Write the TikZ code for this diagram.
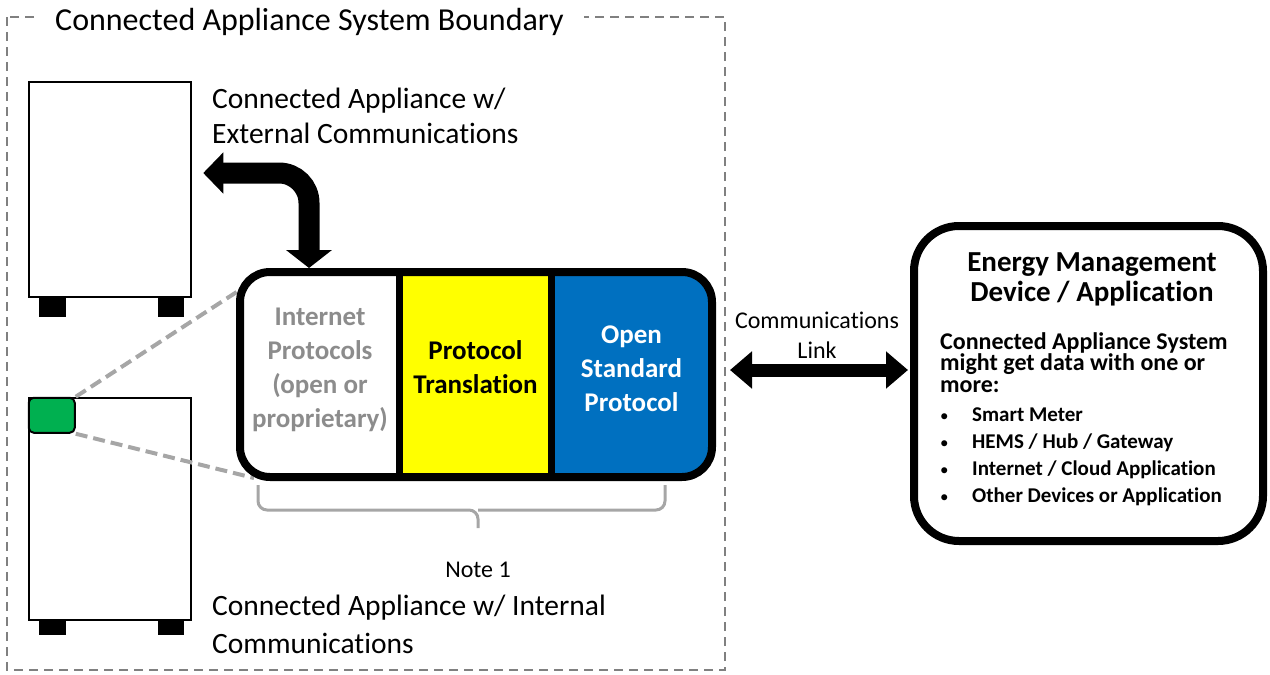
\documentclass[tikz,border=0pt]{standalone}
\usepackage{fontspec}
\setmainfont{Carlito}[Ligatures=NoCommon]
\usetikzlibrary{arrows.meta}
\usetikzlibrary{positioning}
\definecolor{protoyellow}{HTML}{FFFF00}
\definecolor{protoblue}{HTML}{0070C0}
\definecolor{portgreen}{HTML}{00B050}
\definecolor{edgegray}{HTML}{808080}
\definecolor{zoomgray}{HTML}{A6A6A6}
\definecolor{textgray}{HTML}{8C8C8C}
\tikzset{
  appliance/.style={draw, line width=2.5pt, minimum width=162pt, inner sep=0pt},
  section/.style={minimum height=205pt, inner sep=0pt},
  sectiontext/.style={align=center, inner sep=0pt, font=\bfseries\fontsize{27}{34}\selectfont},
  fatarrow/.style={line width=13pt},
  plainlabel/.style={align=left, inner sep=0pt}
}

\begin{document}
\begin{tikzpicture}[x=1pt, y=-1pt]
    \useasboundingbox (0,0) rectangle (1270,675);
    % system boundary
    \draw[edgegray, line width=2.5pt, dash pattern=on 9pt off 6pt] (7,17) rectangle (725,670);
    \node[fill=white, anchor=west, inner xsep=20pt, inner ysep=8pt,
          font=\fontsize{32}{38}\selectfont] (boundary) at (35,22) {Connected Appliance System Boundary};

    % the two appliances
    \node[appliance, minimum height=215pt] (app1) at (110,189.5) {};
    \fill ([xshift=11pt]app1.south west) rectangle ++(27,19);
    \fill ([xshift=-8pt]app1.south east) rectangle ++(-26,19);
    \node[appliance, minimum height=222pt] (app2) at (110,509) {};
    \fill ([xshift=11pt]app2.south west) rectangle ++(27,14);
    \fill ([xshift=-8pt]app2.south east) rectangle ++(-26,14);
    \node[draw, line width=2pt, fill=portgreen, rounded corners=5pt,
          minimum width=46pt, minimum height=35pt, anchor=north west] (port) at (app2.north west) {};

    \node[plainlabel, anchor=west, font=\fontsize{29.5}{35}\selectfont] (extlabel) at (212,116)
        {Connected Appliance w/\\External Communications};
    \node[plainlabel, anchor=west, font=\fontsize{29.5}{38}\selectfont] (intlabel) at (212,624)
        {Connected Appliance w/ Internal\\Communications};

    % zoom lines
    \draw[zoomgray, line width=4pt, dash pattern=on 12pt off 6pt] (port.north east) -- (252,282);
    \draw[zoomgray, line width=4pt, dash pattern=on 12pt off 6pt] (port.south east) -- (254,478);

    % protocol stack
    \begin{scope}
        \clip[rounded corners=30pt] (240,272) rectangle (712,477);
        \node[section, fill=white, minimum width=160pt] (inet) at (320,374.5) {};
        \node[section, fill=protoyellow, minimum width=151pt] (trans) at (475.5,374.5) {};
        \node[section, fill=protoblue, minimum width=161pt] (osp) at (631.5,374.5) {};
    \end{scope}
    \draw[line width=7pt] (trans.north west) -- (trans.south west);
    \draw[line width=7pt] (trans.north east) -- (trans.south east);
    \node[draw, line width=8pt, rounded corners=30pt, minimum width=472pt, minimum height=205pt,
          inner sep=0pt] (stack) at (476,374.5) {};
    \node[sectiontext, text=textgray] (inettext) at ([yshift=5pt]inet.center)
        {Internet\\Protocols\\(open or\\proprietary)};
    \node[sectiontext] (transtext) at ([yshift=7pt]trans.center) {Protocol\\Translation};
    \node[sectiontext, text=white] (osptext) at ([yshift=6pt]osp.center) {Open\\Standard\\Protocol};

    % brace
    \draw[zoomgray, line width=3pt, rounded corners=9pt] (258,485) |- (478,510) -- (478,528);
    \draw[zoomgray, line width=3pt, rounded corners=9pt] (665,485) |- (478,510);
    \node[font=\fontsize{24}{28}\selectfont] (note) at (478,570) {Note 1};

    % appliance to stack
    \coordinate (bend) at (309,173);
    \draw[line width=21pt, rounded corners=30pt, shorten <=11pt,
          {Triangle[length=20pt, width=40pt]}-{Triangle[length=18pt, width=45pt]}]
        (app1.east |- bend) -| (stack.north -| bend);

    % energy management device
    \node[draw, line width=8pt, rounded corners=45pt, minimum width=349pt, minimum height=315pt]
        (ems) at (1088.5,383.5) {};
    \node[align=center, font=\bfseries\fontsize{29}{30}\selectfont] (emstitle) at (1092,279)
        {Energy Management\\Device / Application};
    \node[plainlabel, anchor=north west, font=\bfseries\fontsize{24}{21.5}\selectfont] (emsnote) at (940,332)
        {Connected Appliance System\\might get data with one or\\more:};
    \node[plainlabel, anchor=north west, font=\bfseries\fontsize{21}{27}\selectfont] (emslist) at (940,408)
        {\makebox[32pt][l]{\normalfont\fontsize{17}{17}\selectfont\textbullet}Smart Meter\\
         \makebox[32pt][l]{\normalfont\fontsize{17}{17}\selectfont\textbullet}HEMS / Hub / Gateway\\
         \makebox[32pt][l]{\normalfont\fontsize{17}{17}\selectfont\textbullet}Internet / Cloud Application\\
         \makebox[32pt][l]{\normalfont\fontsize{17}{17}\selectfont\textbullet}Other Devices or Application};

    % communications link
    \coordinate (link) at (0,370);
    \node[align=center, font=\fontsize{24}{30}\selectfont] (linklabel) at (817,335) {Communications\\Link};
    \draw[fatarrow, shorten <=14pt, shorten >=2pt,
          {Triangle[length=22pt, width=36pt]}-{Triangle[length=22pt, width=36pt]}]
        (stack.east |- link) -- (ems.west |- link);
\end{tikzpicture}
\end{document}
